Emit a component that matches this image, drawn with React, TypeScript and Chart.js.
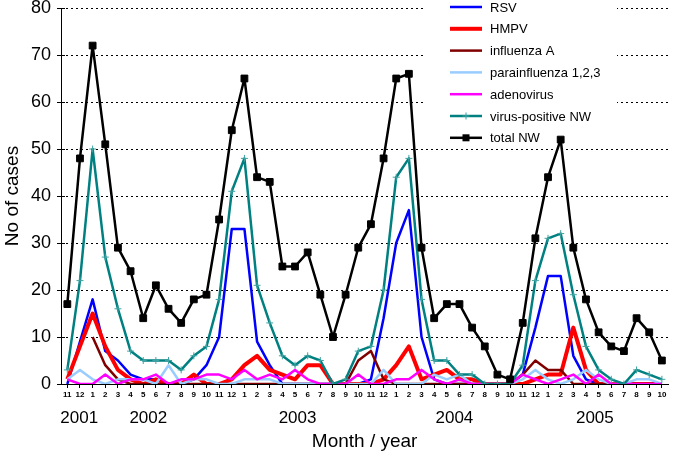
import { useEffect, useRef } from 'react';
import { Chart, registerables } from 'chart.js';

Chart.register(...registerables);

const FONT = '"Liberation Sans", Arial, Helvetica, sans-serif';

// Month labels: Nov 2001 .. Oct 2005
const months = [
  '11', '12',
  '1', '2', '3', '4', '5', '6', '7', '8', '9', '10', '11', '12',
  '1', '2', '3', '4', '5', '6', '7', '8', '9', '10', '11', '12',
  '1', '2', '3', '4', '5', '6', '7', '8', '9', '10', '11', '12',
  '1', '2', '3', '4', '5', '6', '7', '8', '9', '10',
];

const yearLabels = ['2001', '2002', '2003', '2004', '2005'];
// position of each year label along the month axis (category index units)
const yearLabelPos = [0.94, 6.4, 18.2, 30.6, 41.7];

const rsv = [0, 9, 18, 7, 5, 2, 1, 1, 0, 0, 1, 4, 10, 33, 33, 9, 4, 0, 0, 0, 0, 0, 0, 0, 1, 14, 30, 37, 10, 1, 0, 0, 0, 0, 0, 0, 2, 12, 23, 23, 6, 1, 0, 0, 0, 0, 0, 0];
const hmpv = [1, 8, 15, 8, 3, 1, 0, 1, 0, 0, 2, 0, 0, 1, 4, 6, 3, 2, 1, 4, 4, 0, 0, 0, 0, 1, 4, 8, 1, 2, 3, 1, 1, 0, 0, 0, 0, 1, 2, 2, 12, 3, 0, 0, 0, 0, 0, 0];
const influenzaA = [null, null, 10, 4, 1, 0, 0, 0, 0, 0, 0, 0, 0, 0, 0, 0, 0, 0, 0, 0, 0, 0, 0, 5, 7, 1, 0, 0, 0, 0, 0, 0, 0, 0, 0, 0, 2, 5, 3, 3, 0, 0, 0, 0, 0, 0, 0, 0];
const parainfluenza = [1, 3, 1, 0, 1, 1, 1, 0, 4, 0, 1, 1, 0, 0, 1, 1, 1, 0, 0, 0, 0, 0, 0, 0, 0, 3, 0, 0, 0, 2, 1, 2, 0, 0, 0, 0, 1, 3, 1, 0, 1, 3, 1, 0, 0, 1, 1, 0];
const adenovirus = [1, 0, 0, 2, 0, 1, 1, 2, 0, 1, 1, 2, 2, 1, 3, 1, 2, 1, 3, 1, 0, 0, 0, 2, 0, 0, 1, 1, 3, 1, 0, 1, 0, 0, 0, 0, 2, 1, 0, 1, 2, 0, 2, 0, 0, 0, 0, 0];
const virusPositive = [3, 22, 50, 27, 16, 7, 5, 5, 5, 3, 6, 8, 18, 41, 48, 21, 13, 6, 4, 6, 5, 0, 1, 7, 8, 20, 44, 48, 18, 5, 5, 2, 2, 0, 0, 0, 4, 22, 31, 32, 19, 8, 3, 1, 0, 3, 2, 1];
const totalNW = [17, 48, 72, 51, 29, 24, 14, 21, 16, 13, 18, 19, 35, 54, 65, 44, 43, 25, 25, 28, 19, 10, 19, 29, 34, 48, 65, 66, 29, 14, 17, 17, 12, 8, 2, 1, 13, 31, 44, 52, 29, 18, 11, 8, 7, 14, 11, 5];

const seriesNames = ['RSV', 'HMPV', 'influenza A', 'parainfluenza 1,2,3', 'adenovirus', 'virus-positive NW', 'total NW'];
const seriesColors = ['#0000FF', '#FF0000', '#800000', '#99CCFF', '#FF00FF', '#008080', '#000000'];
const seriesWidths = [2.5, 4, 2.5, 2.5, 2.5, 2.5, 2.5];

// dotted horizontal grid, cross ticks on the y axis, then the boxed legend
const gridAndLegendPlugin = {
  id: 'gridAndLegend',
  beforeDatasetsDraw(chart: any) {
    const ctx = chart.ctx;
    const ys = chart.scales.y;
    const area = chart.chartArea;
    ctx.save();
    ctx.strokeStyle = '#000';
    ctx.lineWidth = 1;
    ys.ticks.forEach((t: any) => {
      const py = Math.round(ys.getPixelForValue(t.value)) + 0.5;
      if (t.value > 0) {
        ctx.setLineDash([2, 3]);
        ctx.beginPath();
        ctx.moveTo(area.left, py);
        ctx.lineTo(area.right, py);
        ctx.stroke();
      }
      ctx.setLineDash([]);
      ctx.beginPath();
      ctx.moveTo(area.left - 4, py);
      ctx.lineTo(area.left + 4, py);
      ctx.stroke();
    });

    ctx.setLineDash([]);
    ctx.fillStyle = '#ffffff';
    ctx.fillRect(425, 0, 192, 147);
    chart.data.datasets.forEach((ds: any, i: number) => {
      const y = 7 + 21.8 * i;
      ctx.strokeStyle = ds.borderColor;
      ctx.lineWidth = ds.borderWidth;
      ctx.beginPath();
      ctx.moveTo(450, y);
      ctx.lineTo(482, y);
      ctx.stroke();
      if (ds.pointStyle === 'rect') {
        ctx.fillStyle = ds.pointBackgroundColor;
        ctx.fillRect(462.5, y - 3.5, 7, 7);
      } else if (ds.pointStyle === 'cross') {
        ctx.strokeStyle = ds.pointBorderColor;
        ctx.lineWidth = 1;
        ctx.beginPath();
        ctx.moveTo(466, y - 3.5);
        ctx.lineTo(466, y + 3.5);
        ctx.moveTo(462.5, y);
        ctx.lineTo(469.5, y);
        ctx.stroke();
      }
      ctx.fillStyle = '#000';
      ctx.font = '13px ' + FONT;
      ctx.textAlign = 'left';
      ctx.textBaseline = 'middle';
      ctx.fillText(ds.label, 490, y + 1);
    });
    ctx.restore();
  },
};

const yearPlugin = {
  id: 'yearLabels',
  afterDraw(chart: any) {
    const ctx = chart.ctx;
    const xs = chart.scales.x;
    ctx.save();
    ctx.fillStyle = '#000';
    ctx.font = '17px ' + FONT;
    ctx.textAlign = 'center';
    ctx.textBaseline = 'middle';
    yearLabels.forEach((t, i) => {
      ctx.fillText(t, xs.getPixelForValue(yearLabelPos[i]), 418);
    });
    ctx.restore();
  },
};

export default function App() {
  const ref = useRef<HTMLCanvasElement | null>(null);

  useEffect(() => {
    if (!ref.current) return;
    const values = [rsv, hmpv, influenzaA, parainfluenza, adenovirus, virusPositive, totalNW];
    const datasets = values.map((d, i) => ({
      label: seriesNames[i],
      data: d,
      borderColor: seriesColors[i],
      backgroundColor: seriesColors[i],
      borderWidth: seriesWidths[i],
      tension: 0,
      spanGaps: false,
      order: 6 - i,
      pointRadius: i === 6 ? 4.8 : i === 5 ? 3.5 : 0,
      pointHoverRadius: 0,
      pointStyle: i === 6 ? 'rect' : i === 5 ? 'cross' : 'circle',
      pointBackgroundColor: i === 6 ? '#000000' : seriesColors[i],
      pointBorderColor: i === 6 ? '#000000' : i === 5 ? '#3FA3A3' : seriesColors[i],
      pointBorderWidth: 1,
      borderJoinStyle: 'round' as const,
    }));

    const chart = new Chart(ref.current, {
      type: 'line',
      data: { labels: months, datasets },
      options: {
        animation: false,
        responsive: false,
        maintainAspectRatio: false,
        events: [],
        layout: { padding: { top: 0, right: 1, left: 0, bottom: 0 } },
        plugins: {
          legend: { display: false },
          tooltip: { enabled: false },
        },
        scales: {
          x: {
            type: 'category',
            offset: true,
            afterFit(scale: any) {
              scale.height = 70;
              scale.paddingLeft = 0;
              scale.paddingRight = 0;
            },
            grid: {
              display: true,
              drawOnChartArea: false,
              drawTicks: true,
              tickLength: 4,
              color: '#000',
            },
            border: { display: true, color: '#000', width: 1 },
            ticks: {
              autoSkip: false,
              maxRotation: 0,
              minRotation: 0,
              padding: 2,
              color: '#000',
              font: { family: FONT, size: 8, weight: 'bold' },
            },
            title: {
              display: true,
              text: 'Month / year',
              color: '#000',
              font: { family: FONT, size: 19 },
              padding: { top: 0, bottom: 1 },
            },
          },
          y: {
            min: 0,
            max: 80,
            afterFit(scale: any) {
              scale.width = 61;
              scale.paddingTop = 8;
              scale.paddingBottom = 0;
            },
            grid: {
              display: true,
              drawOnChartArea: false,
              drawTicks: false,
            },
            border: { display: true, color: '#000', width: 1 },
            ticks: {
              stepSize: 10,
              padding: 10,
              color: '#000',
              font: { family: FONT, size: 18 },
            },
            title: {
              display: true,
              text: 'No of cases',
              color: '#000',
              font: { family: FONT, size: 19 },
              padding: { top: 1, bottom: 0 },
            },
          },
        },
      },
      plugins: [gridAndLegendPlugin, yearPlugin],
    } as any);

    return () => chart.destroy();
  }, []);

  return (
    <div style={{ position: 'absolute', left: 0, top: 0, width: 674, height: 454, background: '#fff' }}>
      <canvas ref={ref} width={674} height={454} style={{ display: 'block', width: 674, height: 454 }} />
    </div>
  );
}
